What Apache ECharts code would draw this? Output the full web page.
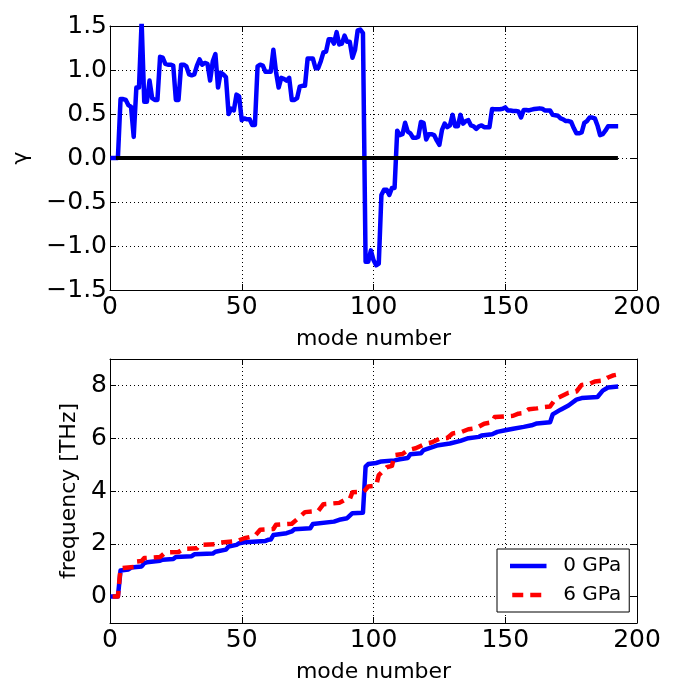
<!DOCTYPE html>
<html><head><meta charset="utf-8">
<script src="https://cdn.jsdelivr.net/npm/echarts@6/dist/echarts.min.js"></script>
<style>html,body{margin:0;padding:0;background:#fff}#c{width:684px;height:684px}</style>
</head><body><div id="c"></div>
<script>
// ---- data ----
// Grüneisen parameter gamma for modes 1..192
const gammaValues = [
  0, 0, 0, 0.67, 0.67, 0.66, 0.60, 0.58, 0.24, 0.80,
  0.80, 1.55, 0.64, 0.64, 0.88, 0.68, 0.66, 0.66, 1.15, 1.14,
  1.07, 1.06, 1.06, 1.05, 0.66, 0.66, 1.06, 1.06, 1.04, 0.95,
  0.94, 0.95, 1.05, 1.12, 1.06, 1.08, 1.07, 0.88, 1.10, 1.18,
  0.80, 0.97, 0.95, 0.92, 0.50, 0.56, 0.54, 0.72, 0.70, 0.43,
  0.45, 0.44, 0.44, 0.375, 0.375, 1.04, 1.06, 1.05, 0.98, 0.98,
  0.98, 1.23, 0.98, 0.80, 0.91, 0.90, 0.88, 0.91, 0.66, 0.66,
  0.68, 0.81, 0.82, 0.82, 1.13, 1.13, 1.13, 1.02, 1.02, 1.10,
  1.20, 1.21, 1.35, 1.35, 1.30, 1.43, 1.29, 1.30, 1.39, 1.32,
  1.32, 1.14, 1.23, 1.45, 1.46, 1.42, -1.18, -1.18, -1.05, -1.16,
  -1.22, -1.20, -0.42, -0.36, -0.36, -0.42, -0.34, -0.34, 0.31, 0.26,
  0.27, 0.40, 0.30, 0.28, 0.23, 0.23, 0.24, 0.41, 0.40, 0.21,
  0.27, 0.27, 0.26, 0.20, 0.15, 0.32, 0.39, 0.35, 0.37, 0.49,
  0.36, 0.36, 0.49, 0.39, 0.42, 0.43, 0.37, 0.36, 0.33, 0.36,
  0.37, 0.35, 0.35, 0.35, 0.556, 0.555, 0.555, 0.555, 0.56, 0.575,
  0.54, 0.54, 0.535, 0.535, 0.53, 0.46, 0.545, 0.545, 0.54, 0.55,
  0.556, 0.56, 0.564, 0.56, 0.54, 0.54, 0.54, 0.49, 0.485, 0.48,
  0.45, 0.44, 0.42, 0.42, 0.41, 0.34, 0.28, 0.28, 0.29, 0.40,
  0.42, 0.46, 0.46, 0.45, 0.37, 0.26, 0.27, 0.31, 0.36, 0.36,
  0.36, 0.36
];
const firstMode = 1;
// black zero reference line
const zeroLineX = [3, 192];
const zeroLineY = [0, 0];

// frequency (THz) vertices: 0 GPa
const freq0Modes = [1,3,4,7,8,12,13,14,19,20,24,25,31,32,39,40,44,45,48,49,51,59,60,61,62,67,69,70,76,77,85,87,90,92,96,97,98,101,103,108,110,113,114,118,119,124,129,133,136,140,141,145,147,150,153,157,160,162,167,168,171,174,177,179,185,187,189,192];
const freq0Values = [0,0,0.99,1.03,1.10,1.14,1.27,1.30,1.36,1.40,1.42,1.50,1.53,1.60,1.63,1.70,1.78,1.90,1.96,2.02,2.06,2.11,2.15,2.16,2.33,2.40,2.47,2.55,2.59,2.75,2.84,2.91,2.97,3.16,3.18,4.92,5.02,5.06,5.12,5.16,5.20,5.25,5.39,5.43,5.55,5.72,5.80,5.90,6.00,6.05,6.10,6.15,6.24,6.30,6.36,6.43,6.49,6.56,6.60,6.90,7.08,7.24,7.46,7.52,7.56,7.80,7.92,7.95];
// frequency (THz) vertices: 6 GPa
const freq6Modes = [1,3,4,9,10,12,13,19,21,26,28,33,34,40,42,48,51,55,57,62,63,69,71,74,79,81,87,89,91,92,96,97,98,101,102,103,105,107,108,111,113,116,120,122,125,128,130,133,136,139,142,145,146,153,155,157,159,162,164,167,169,174,177,179,182,184,187,189,191,192];
const freq6Values = [0,0,1.08,1.12,1.33,1.35,1.46,1.50,1.67,1.69,1.81,1.83,1.96,1.98,2.05,2.10,2.21,2.30,2.53,2.56,2.72,2.76,2.93,3.20,3.24,3.50,3.55,3.66,3.70,3.95,3.97,4.05,4.17,4.20,4.60,4.70,4.90,4.95,5.36,5.40,5.55,5.62,5.80,5.84,5.98,6.01,6.18,6.22,6.34,6.38,6.55,6.60,6.80,6.85,6.93,6.95,7.10,7.13,7.17,7.20,7.48,7.72,7.77,8.02,8.06,8.15,8.18,8.30,8.38,8.40];

const seriesNames = ['0 GPa', '6 GPa'];
const xLabel = 'mode number';
const gammaLabel = 'γ';
const freqLabel = 'frequency [THz]';
const freqTickValues = [0, 2, 4, 6, 8];

// ---- chart ----
const FONT = 'DejaVu Sans';
const chart = echarts.init(document.getElementById('c'), null, {renderer: 'canvas'});
const pair = (xs, ys) => xs.map((x, i) => [x, ys[i]]);

function xAx(grid, pos, main) {
  return {
    gridIndex: grid, type: 'value', min: 0, max: 200, interval: 50, position: pos,
    name: main ? xLabel : '', nameLocation: 'middle', nameGap: 38,
    nameTextStyle: {fontSize: 22, color: '#000', fontFamily: FONT},
    axisLine: {show: true, onZero: false, lineStyle: {color: '#000', width: 1}},
    axisTick: {show: true, inside: true, length: 6, lineStyle: {color: '#000', width: 1}},
    axisLabel: {show: main, fontSize: 25, color: '#000', fontFamily: FONT, margin: 5, showMinLabel: true, showMaxLabel: true},
    splitLine: {show: main, lineStyle: {color: '#000', width: 1, type: [1, 3]}}
  };
}

const minus = v => (v < 0 ? '\u2212' : '') + Math.abs(v);
const option = {
  animation: false,
  backgroundColor: '#fff',
  textStyle: {fontFamily: FONT},
  grid: [
    {left: 110, top: 26, width: 527, height: 264},
    {left: 110, top: 359, width: 527, height: 264.5}
  ],
  xAxis: [xAx(0, 'bottom', true), xAx(0, 'top', false), xAx(1, 'bottom', true), xAx(1, 'top', false)],
  yAxis: [
    {gridIndex: 0, type: 'value', min: -1.5, max: 1.5, interval: 0.5, position: 'left',
     name: gammaLabel, nameLocation: 'middle', nameGap: 78, nameRotate: 90,
     nameTextStyle: {fontSize: 22, color: '#000', fontFamily: FONT},
     axisLine: {show: true, onZero: false, lineStyle: {color: '#000', width: 1}},
     axisTick: {show: true, inside: true, length: 6, lineStyle: {color: '#000'}},
     axisLabel: {fontSize: 25, color: '#000', fontFamily: FONT, margin: 3, showMinLabel: true, showMaxLabel: true,
       formatter: v => (v < 0 ? '\u2212' : '') + Math.abs(v).toFixed(1)},
     splitLine: {show: true, lineStyle: {color: '#000', width: 1, type: [1, 3]}}},
    {gridIndex: 0, type: 'value', min: -1.5, max: 1.5, interval: 0.5, position: 'right',
     axisLine: {show: true, onZero: false, lineStyle: {color: '#000', width: 1}},
     axisTick: {show: true, inside: true, length: 6, lineStyle: {color: '#000'}},
     axisLabel: {show: false}, splitLine: {show: false}},
    {gridIndex: 1, type: 'value', min: -1, max: 9, interval: 1, position: 'left',
     name: freqLabel, nameLocation: 'middle', nameGap: 28, nameRotate: 90,
     nameTextStyle: {fontSize: 22, color: '#000', fontFamily: FONT},
     axisLine: {show: true, onZero: false, lineStyle: {color: '#000', width: 1}},
     axisTick: {show: true, inside: true, length: 6, customValues: freqTickValues, lineStyle: {color: '#000'}},
     axisLabel: {fontSize: 25, color: '#000', fontFamily: FONT, margin: 3, customValues: freqTickValues, formatter: minus},
     splitLine: {show: true, lineStyle: {color: '#000', width: 1, type: [1, 3]}}},
    {gridIndex: 1, type: 'value', min: -1, max: 9, interval: 1, position: 'right',
     axisLine: {show: true, onZero: false, lineStyle: {color: '#000', width: 1}},
     axisTick: {show: true, inside: true, length: 6, customValues: freqTickValues, lineStyle: {color: '#000'}},
     axisLabel: {show: false}, splitLine: {show: false}}
  ],
  legend: {
    data: seriesNames, orient: 'vertical', left: 497, top: 549,
    backgroundColor: '#fff', borderColor: '#000', borderWidth: 1, borderRadius: 0,
    padding: [7, 8, 7, 13], itemGap: 9, itemWidth: 32, itemHeight: 20,
    itemStyle: {opacity: 0},
    lineStyle: {width: 4.5},
    textStyle: {fontSize: 20, color: '#000', fontFamily: FONT, padding: [0, 0, 0, 14]}
  },
  series: [
    {type: 'line', name: 'gamma', xAxisIndex: 0, yAxisIndex: 0, symbol: 'none', z: 3,
     data: gammaValues.map((v, i) => [firstMode + i, v]),
     lineStyle: {color: '#0000ff', width: 4.5, cap: 'square', join: 'round'}},
    {type: 'line', name: 'zero', xAxisIndex: 0, yAxisIndex: 0, symbol: 'none', z: 4,
     data: pair(zeroLineX, zeroLineY),
     lineStyle: {color: '#000', width: 4, cap: 'square'}},
    {type: 'line', name: seriesNames[0], xAxisIndex: 2, yAxisIndex: 2, symbol: 'none', z: 3,
     data: pair(freq0Modes, freq0Values), itemStyle: {color: '#0000ff'},
     lineStyle: {color: '#0000ff', width: 4.5, cap: 'square', join: 'round'}},
    {type: 'line', name: seriesNames[1], xAxisIndex: 2, yAxisIndex: 2, symbol: 'none', z: 4,
     data: pair(freq6Modes, freq6Values), itemStyle: {color: '#ff0000'},
     lineStyle: {color: '#ff0000', width: 4.5, type: [11, 7], join: 'round'}}
  ]
};
chart.setOption(option);
</script>
</body></html>
